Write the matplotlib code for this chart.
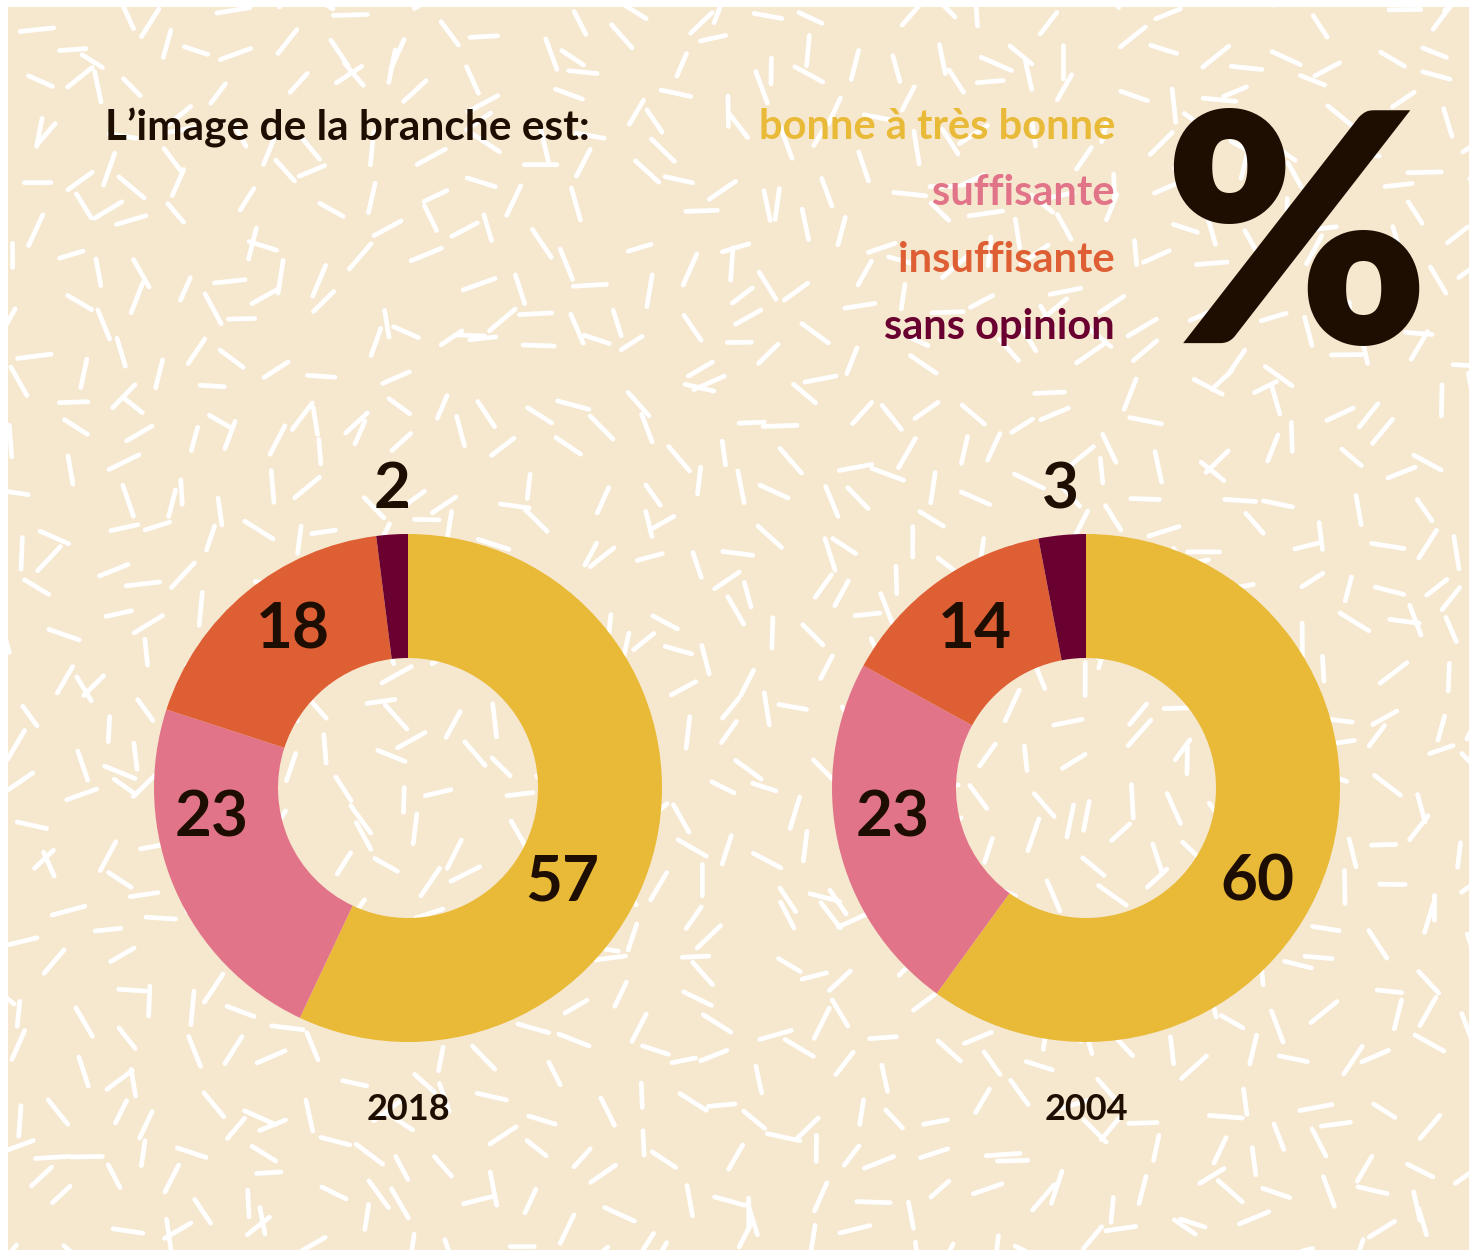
import numpy as np
import matplotlib
matplotlib.use("Agg")
import matplotlib.pyplot as plt
from matplotlib.patches import Rectangle
from matplotlib.collections import LineCollection

# ---- data ----
categories = ["bonne à très bonne", "suffisante", "insuffisante", "sans opinion"]
years = ["2018", "2004"]
values_2018 = [57, 23, 18, 2]
values_2004 = [60, 23, 14, 3]
title = "L\u2019image de la branche est:"

# ---- style ----
colors = ["#E9BA37", "#E17488", "#DF5F34", "#690030"]
bg = "#F6E7CF"
ink = "#1E0E02"
W, H = 1472, 1250

plt.rcParams['font.family'] = ['Lato', 'DejaVu Sans']

fig = plt.figure(figsize=(W / 100, H / 100), dpi=100)
fig.patch.set_facecolor("white")
ax = fig.add_axes([0, 0, 1, 1])
ax.set_xlim(0, W)
ax.set_ylim(0, H)
ax.set_aspect("equal")
ax.axis("off")

# background panel
x0, y0, x1, y1 = 8, 0, 1469, 1243
ax.add_patch(Rectangle((x0, y0), x1 - x0, y1 - y0, facecolor=bg, edgecolor="none", zorder=0))

# sprinkle decoration (deterministic hash jitter)
def h(a, b, s):
    v = np.sin(a * 12.9898 + b * 78.233 + s * 37.719) * 43758.5453
    return v - np.floor(v)

segs = []
step = 44
gx = np.arange(x0 - 10, x1 + 10, step)
gy = np.arange(y0 - 10, y1 + 10, step)
for i, xx in enumerate(gx):
    for j, yy in enumerate(gy):
        cx = xx + h(i, j, 1) * step
        cy = yy + h(i, j, 2) * step
        ang = h(i, j, 3) * np.pi
        L = 24 + h(i, j, 4) * 10
        dx, dy = np.cos(ang) * L / 2, np.sin(ang) * L / 2
        segs.append([(cx - dx, cy - dy), (cx + dx, cy + dy)])
lc = LineCollection(segs, colors="white", linewidths=3.4, capstyle="round", zorder=1)
clip = Rectangle((x0, y0), x1 - x0, y1 - y0, transform=ax.transData)
lc.set_clip_path(clip)
ax.add_collection(lc)

# donuts
centers = [(408, H - 788), (1086, H - 788)]
R_out, R_in = 254, 130
series = [values_2018, values_2004]
for (cx, cy), vals in zip(centers, series):
    ax.pie(vals, colors=colors, startangle=90, counterclock=False,
           radius=R_out, center=(cx, cy), frame=True,
           wedgeprops=dict(width=R_out - R_in, edgecolor="none", linewidth=0, zorder=2))
ax.set_xlim(0, W)
ax.set_ylim(0, H)
ax.set_aspect("equal")
ax.axis("off")

# value labels (offsets from donut centre, in px)
label_offsets = [
    [(154, -94), (-196, -30), (-115, 158), (-16, 298)],
    [(171, -94), (-193, -30), (-111, 158), (-26, 298)],
]
for (cx, cy), vals, offs in zip(centers, series, label_offsets):
    for v, (ox, oy) in zip(vals, offs):
        ax.text(cx + ox, cy + oy, str(v), ha="center", va="center",
                fontsize=46, fontweight="bold", color=ink, zorder=5)

for (cx, cy), yr in zip(centers, years):
    ax.text(cx, H - 1110, yr, ha="center", va="center", fontsize=26,
            fontweight="bold", color=ink, zorder=5)

# title
ax.text(105, H - 128, title, ha="left", va="center", fontsize=30.5,
        fontweight="bold", color=ink, zorder=5)

# legend as coloured words
leg_y = [127, 193, 260, 327]
for cat, col, yy in zip(categories, colors, leg_y):
    ax.text(1115, H - yy, cat, ha="right", va="center", fontsize=30,
            fontweight="bold", color=col, zorder=5)

# big percent sign
ax.text(1296, H - 250, "%", ha="center", va="center", fontsize=230,
        fontweight="heavy", color=ink, zorder=5)

fig.savefig("out.png", dpi=100, facecolor="white")
